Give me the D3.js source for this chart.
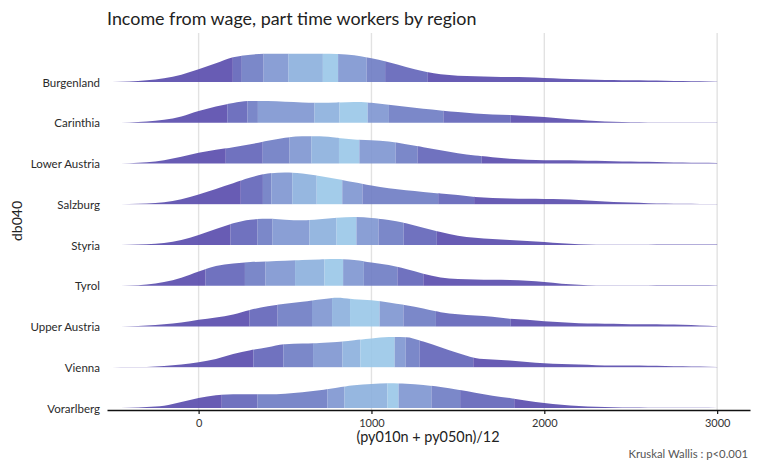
<!DOCTYPE html>
<html><head><meta charset="utf-8">
<script src="https://cdn.jsdelivr.net/npm/d3@7"></script>
<style>body{margin:0;background:#fff}</style>
</head><body><svg id="c" width="768" height="474"></svg>
<script>
const regions = ["Burgenland","Carinthia","Lower Austria","Salzburg","Styria","Tyrol","Upper Austria","Vienna","Vorarlberg"];
const incomeGrid = [-500,-400,-300,-200,-100,0,100,200,300,400,500,600,700,800,900,1000,1100,1200,1300,1400,1500,1600,1700,1800,1900,2000,2100,2200,2300,2400,2500,2600,2700,2800,2900,3000];
const densBurgenland   = [0,0.5,1.7,3.7,7.3,12.7, 18.7,24.7,27.3,28.3,28.3, 28.3,28.3,28,26.7,23.7, 19.7,15,10.7,7.7,6.3, 5.7,5.3,5,4.7,4, 3.3,2.7,2.3,2,1.7, 1.5,1.3,1,0.7,0.3];
const densCarinthia    = [0,0.3,1.3,3,6.3,11.7, 16.3,19.7,21.7,21.7,21, 20.3,20,20.3,20.7,20, 18,16,14,12.3,10.7, 9.3,8.3,7.7,6.7,5.7, 4.3,3,1.7,1,0.5, 0.35,0.3,0.25,0.2,0.15];
const densLowerAustria = [0,0.3,1.3,3.3,6.7,10.7, 13.7,16.3,19.3,22.7,25.7, 27.3,27.3,25.7,24,23.3, 22,19.3,16.3,13.3,10.3, 8,6.3,4.7,3.7,3.3, 3.3,3,2.7,2.3,2, 1.7,1.3,1,0.7,0.5];
const densSalzburg     = [0,0.2,0.7,2,5,9.7, 15.3,21,26.7,30.7,31.7, 30.7,28.3,25.3,22,18.7, 16,14,12.3,10.7,9.3, 7.3,6.3,5.7,5.5,5.3, 5,4.3,3.3,2.3,1.7, 1,0.7,0.4,0.3,0.2];
const densStyria       = [0,0.2,0.7,2,5,10, 16,21.7,25.3,26.3,25.3, 24.7,25.7,27.3,28,27, 25,21.7,17.3,13,9.3, 7.3,6,5,4,3, 1.7,0.7,0.3,0.2,0.15, 0.2,0.4,0.5,0.5,0.4];
const densTyrol        = [0,0.3,1.3,3.7,8,14.3, 19.7,22.3,23.7,24.3,25, 25.7,26.3,26.7,25.7,23.3, 20.7,16.7,12,8.3,6.7, 6.3,6,5.7,5,3.7, 2,1,0.3,0.2,0.15, 0.2,0.4,0.5,0.4,0.3];
const densUpperAustria = [0,0.3,1,2.3,4,6.7, 9,12,16.7,20.3,22.7, 24.7,27,28.7,27.3,26.3, 24,21.3,18,14.3,12.3, 11,9.7,7.7,6.7,5.3, 4.3,3.3,3,2.7,2.3, 2.2,2,1.7,1,0.3];
const densVienna       = [0,0.2,0.3,1.3,2.7,5, 8.3,13.3,17,20,23, 23.7,24.3,25.3,27,28.7, 30.3,30,25.7,20,14.3, 9.3,7.7,6.7,5.3,4, 3.3,2.7,2,1.7,1.7, 1.5,1.3,1,0.7,0.3];
const densVorarlberg   = [0,0.3,1,2.3,6,10, 12.7,13.7,13.7,13.7,14.3, 15.7,17.7,20.3,22.7,24, 24.7,24.3,23,21,18.3, 15.3,12.3,10,7.3,5, 3.3,2,1.3,0.8,0.5, 0.35,0.25,0.2,0.15,0.1];

const decBurgenland   = [198,250,376,520,719,807,972,1079,1326];
const decCarinthia    = [166,283,343,670,815,978,1101,1416,1806];
const decLowerAustria = [157,371,526,653,812,930,1140,1266,1638];
const decSalzburg     = [244,372,421,542,683,831,948,1386,1594];
const decStyria       = [185,341,428,641,798,913,1041,1186,1378];
const decTyrol        = [40,268,387,558,728,836,956,1150,1300];
const decUpperAustria = [295,457,656,772,876,1047,1185,1373,1806];
const decVienna       = [317,491,662,832,936,1134,1198,1279,1589];
const decVorarlberg   = [134,341,745,844,1092,1157,1347,1513,1826];

const xTicks = [0,1000,2000,3000];
const bandColors = ["#584aac","#6163b8","#6d7bc3","#7d95d0","#8bafdd","#99c6e8","#7d95d0","#6d7bc3","#6163b8","#584aac"];

const densities = {"Burgenland":densBurgenland,"Carinthia":densCarinthia,"Lower Austria":densLowerAustria,"Salzburg":densSalzburg,"Styria":densStyria,"Tyrol":densTyrol,"Upper Austria":densUpperAustria,"Vienna":densVienna,"Vorarlberg":densVorarlberg};
const deciles = {"Burgenland":decBurgenland,"Carinthia":decCarinthia,"Lower Austria":decLowerAustria,"Salzburg":decSalzburg,"Styria":decStyria,"Tyrol":decTyrol,"Upper Austria":decUpperAustria,"Vienna":decVienna,"Vorarlberg":decVorarlberg};

const font = "Lato, 'Open Sans', sans-serif";
const svg = d3.select("#c");
const x = d3.scaleLinear().domain([-530, 3190]).range([107, 750]);
const y = d3.scalePoint().domain(regions).range([82, 408]);
const allD = regions.flatMap(r => densities[r]);
const h = d3.scaleLinear().domain([0, d3.max(allD)]).range([0, 31.7]);

// grid
svg.append("g").selectAll("line").data(xTicks).join("line")
  .attr("x1", d => x(d)).attr("x2", d => x(d))
  .attr("y1", 33).attr("y2", 410)
  .attr("stroke", "#e2e2e2").attr("stroke-width", 1.4);

const defs = svg.append("defs");
regions.forEach((r, ri) => {
  const pts = incomeGrid.map((v, i) => [v, densities[r][i]]);
  const area = d3.area()
    .x(d => x(d[0])).y0(y(r)).y1(d => y(r) - h(d[1]))
    .curve(d3.curveMonotoneX);
  const pathD = area(pts);
  const bounds = [x.domain()[0], ...deciles[r], x.domain()[1]];
  const g = svg.append("g");
  for (let b = 0; b < 10; b++) {
    const id = `clip-${ri}-${b}`;
    defs.append("clipPath").attr("id", id).append("rect")
      .attr("x", x(bounds[b])).attr("width", x(bounds[b + 1]) - x(bounds[b]))
      .attr("y", y(r) - 40).attr("height", 40.5);
    g.append("path").attr("d", pathD)
      .attr("fill", bandColors[b]).attr("fill-opacity", 0.9)
      .attr("clip-path", `url(#${id})`);
  }
});

// x axis
const ax = svg.append("g").attr("transform", "translate(0,410)")
  .call(d3.axisBottom(x).tickValues(xTicks).tickSize(4).tickSizeOuter(0).tickFormat(d3.format("d")));
ax.select(".domain").attr("stroke", "#111").attr("stroke-width", 1.5);
ax.selectAll(".tick line").attr("stroke", "#111").attr("stroke-width", 1.2);
ax.selectAll(".tick text").attr("font-family", font).attr("font-size", 11).attr("fill", "#333").attr("dy", "0.9em");

// y labels
svg.append("g").selectAll("text").data(regions).join("text")
  .attr("x", 100).attr("y", d => y(d)).attr("text-anchor", "end")
  .attr("dominant-baseline", "central")
  .attr("font-family", font).attr("font-size", 11.5).attr("fill", "#2a2a2a").text(d => d);

// titles
svg.append("text").attr("x", 107).attr("y", 25).attr("font-family", font)
  .attr("font-size", 17.9).attr("fill", "#222").text("Income from wage, part time workers by region");
svg.append("text").attr("x", 428).attr("y", 442).attr("text-anchor", "middle")
  .attr("font-family", font).attr("font-size", 14.4).attr("fill", "#222").text("(py010n + py050n)/12");
svg.append("text").attr("transform", "translate(22,221) rotate(-90)").attr("text-anchor", "middle")
  .attr("font-family", font).attr("font-size", 14).attr("fill", "#222").text("db040");
svg.append("text").attr("x", 748).attr("y", 458).attr("text-anchor", "end")
  .attr("font-family", font).attr("font-size", 11.3).attr("fill", "#555").text("Kruskal Wallis : p<0.001");
</script></body></html>
